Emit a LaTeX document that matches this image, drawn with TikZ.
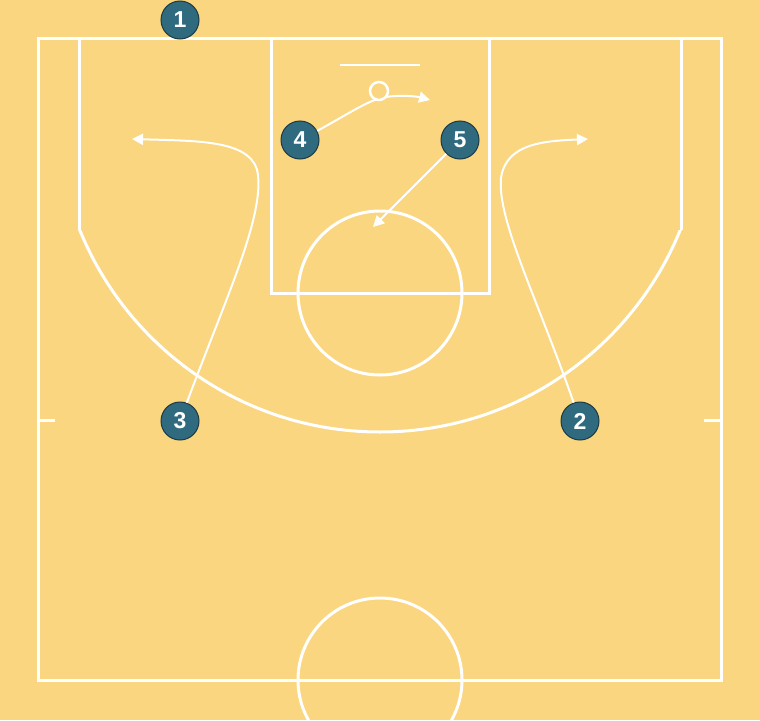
\documentclass[tikz,border=0pt]{standalone}
\usepackage{fontspec}
\setmainfont{Liberation Sans}
\usetikzlibrary{arrows.meta}
\definecolor{court}{RGB}{250,214,128}
\definecolor{playerfill}{RGB}{47,106,126}
\definecolor{pborder}{RGB}{28,58,68}
\begin{document}
\begin{tikzpicture}[x=1pt,y=-1pt,
  courtline/.style={white,line width=3pt},
  move/.style={white,line width=2pt,-{Triangle[length=11pt,width=11pt]}},
  player/.style={circle,fill=playerfill,draw=pborder,line width=1pt,minimum size=38pt,inner sep=0pt,text=white,font=\fontsize{23}{23}\selectfont\bfseries}]
\useasboundingbox (0,0) rectangle (760,720);
\clip (0,0) rectangle (760,720);
\fill[court] (0,0) rectangle (760,720);
% court
\draw[courtline] (38,38) rectangle (721,680);
\draw[courtline] (79,38) -- (79,230);
\draw[courtline] (681,38) -- (681,230);
\begin{scope}
  \clip (0,230) rectangle (760,720);
  \draw[courtline] (380,108) circle[radius=324];
\end{scope}
\draw[courtline] (271,38) rectangle (489,293);
\draw[courtline] (380,293) circle[radius=82];
\draw[courtline] (380,680) circle[radius=82];
\draw[courtline] (38,420) -- (55,420);
\draw[courtline] (704,420) -- (721,420);
\draw[white,line width=1.5pt] (340,65) -- (420,65);
% players
\node[player] (p1) at (180,20) {1};
\node[player] (p2) at (580,421) {2};
\node[player] (p3) at (180,421) {3};
\node[player] (p4) at (300,140) {4};
\node[player] (p5) at (460,140) {5};
% free ends
\coordinate (e3) at (132,139);
\coordinate (e2) at (588,139);
\coordinate (e4) at (430,100);
\coordinate (e5) at (373,227);
\coordinate (m3) at (258,175);
\coordinate (m2) at (501,178);
\coordinate (m4) at (385,97);
% movements
\draw[white,line width=2pt] (p3) .. controls (225,300) and (263,220) .. (m3);
\draw[move] (m3) .. controls (254,140) and (200,141) .. (e3);
\draw[white,line width=2pt] (p2) .. controls (538,300) and (497,220) .. (m2);
\draw[move] (m2) .. controls (506,143) and (545,141) .. (e2);
\draw[white,line width=2pt] (p4) .. controls (345,116) and (368,100) .. (m4);
\draw[move] (m4) .. controls (400,95) and (415,96) .. (e4);
\draw[move] (p5) -- (e5);
% hoop
\node[circle,draw=white,line width=2.5pt,fill=court,minimum size=18pt,inner sep=0pt] (hoop) at (379,91) {};
\end{tikzpicture}
\end{document}
